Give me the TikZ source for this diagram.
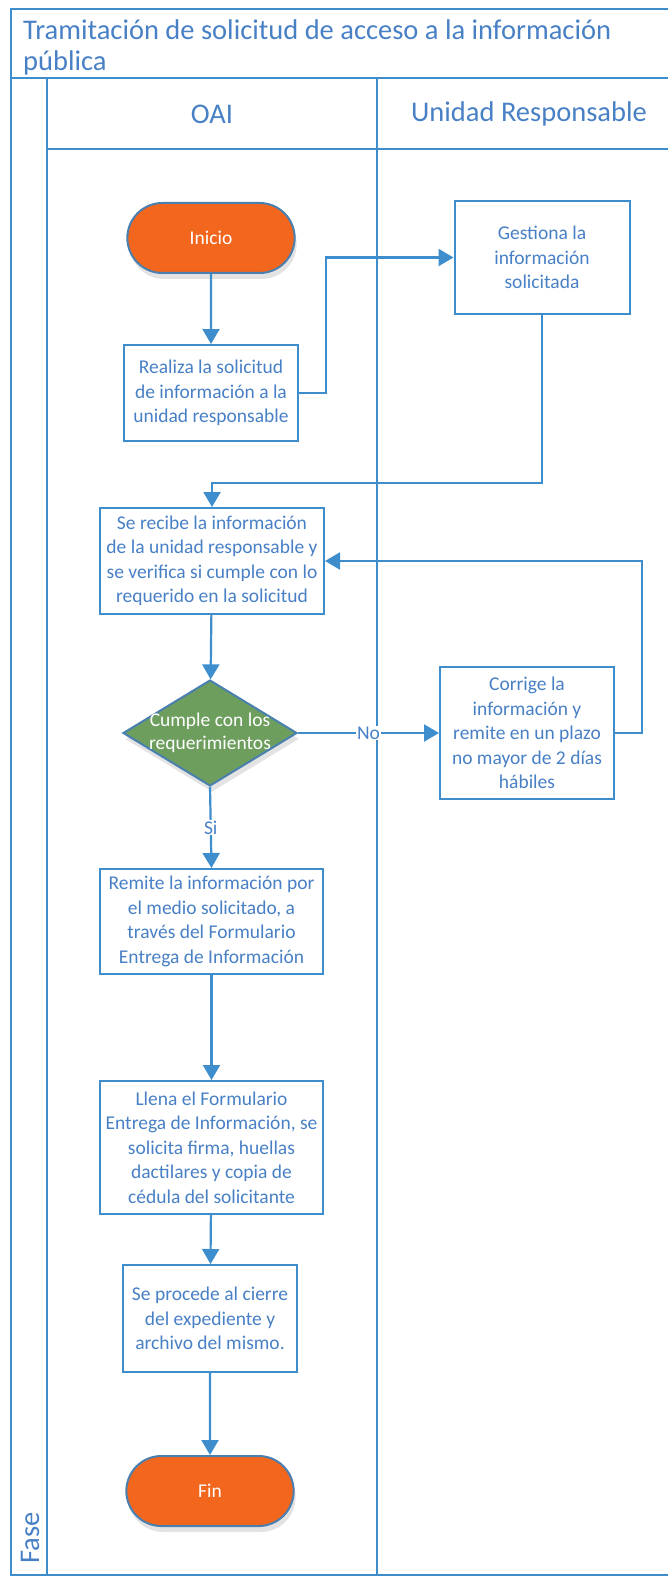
\documentclass[tikz,border=0pt]{standalone}
\usepackage{fontspec}
\setmainfont{Carlito}
\usetikzlibrary{shapes.geometric,shapes.misc,arrows.meta,shadows,patterns}

\definecolor{laneblue}{RGB}{62,141,205}
\definecolor{txtblue}{RGB}{72,128,198}
\definecolor{termorange}{RGB}{243,102,30}
\definecolor{decgreen}{RGB}{109,158,94}
\definecolor{termedge}{RGB}{74,128,176}

\begin{document}
\begin{tikzpicture}[x=1pt,y=-1pt,
  lane/.style={draw=laneblue, line width=1.7pt},
  bigtext/.style={text=txtblue, font=\fontsize{28.5}{31}\selectfont, inner sep=0pt},
  proc/.style={draw=laneblue, line width=2pt, fill=white, text=txtblue, align=center,
    font=\fontsize{19.5}{24.5}\selectfont, inner sep=0pt},
  spotshadow/.style={drop shadow={shadow xshift=2pt, shadow yshift=-6pt, fill=black!18, opacity=.6}},
  term/.style={rounded rectangle, draw=termedge, line width=2pt, fill=termorange, text=white,
    minimum width=174pt, minimum height=70pt, font=\fontsize{19.5}{22}\selectfont, spotshadow},
  decision/.style={diamond, draw=termedge, line width=2pt, fill=decgreen,
    minimum width=174pt, minimum height=106pt, inner sep=0pt, spotshadow},
  dlabel/.style={align=center, text=white, font=\fontsize{19.5}{23}\selectfont},
  flow/.style={draw=laneblue, line width=2.2pt, -{Triangle[length=15pt,width=17pt]}},
  tag/.style={fill=white, text=txtblue, font=\fontsize{19.5}{22}\selectfont, inner sep=1pt},
]
\useasboundingbox (0,0) rectangle (668,1578);

% pool and lanes
\draw[lane] (668,9) -- (11,9) -- (11,1575) -- (668,1575);
\draw[lane] (11,78) -- (668,78);
\draw[lane] (47,78) -- (47,1575);
\draw[lane] (47,149) -- (668,149);
\draw[lane] (377,78) -- (377,1575);

\node[bigtext, anchor=north west, align=left] (titulo) at (23,20)
  {Tramitación de solicitud de acceso a la información\\pública};
\node[bigtext] (oai) at (212,114) {OAI};
\node[bigtext] (unidad) at (529,114) {Unidad Responsable};
\node[bigtext, rotate=90, anchor=west] (fase) at (30,1564) {Fase};

% steps
\node[term] (inicio) at (211,238) {Inicio};
\node[proc, minimum width=174pt, minimum height=96pt] (realiza) at (211,393)
  {Realiza la solicitud\\de información a la\\unidad responsable};
\node[proc, minimum width=175pt, minimum height=113pt] (gestiona) at (542,257.5)
  {Gestiona la\\información\\solicitada};
\node[proc, minimum width=224pt, minimum height=106pt] (recibe) at (212,561)
  {Se recibe la información\\de la unidad responsable y\\se verifica si cumple con lo\\requerido en la solicitud};
\node[decision, label={[dlabel]center:Cumple con los\\requerimientos}] (cumple) at (210,733) {};
\node[proc, minimum width=174pt, minimum height=132pt] (corrige) at (527,733)
  {Corrige la\\información y\\remite en un plazo\\no mayor de 2 días\\hábiles};
\node[proc, minimum width=223pt, minimum height=105pt] (remite) at (211.5,921.5)
  {Remite la información por\\el medio solicitado, a\\través del Formulario\\Entrega de Información};
\node[proc, minimum width=223pt, minimum height=133pt] (llena) at (211.5,1147.5)
  {Llena el Formulario\\Entrega de Información, se\\solicita firma, huellas\\dactilares y copia de\\cédula del solicitante};
\node[proc, minimum width=174pt, minimum height=107pt] (cierre) at (210,1318.5)
  {Se procede al cierre\\del expediente y\\archivo del mismo.};
\node[term] (fin) at (210,1491) {Fin};

% connectors
\draw[flow] (inicio) -- (realiza);
\draw[flow] (realiza.east) -- ++(27,0) |- (gestiona.west);
\draw[flow] (gestiona.south) -- ++(0,168) -| (recibe.north);
\draw[flow] (recibe) -- (cumple);
\draw[flow] (cumple.east) -- node[tag] {No} (corrige.west);
\draw[flow] (corrige.east) -- ++(27,0) |- (recibe.east);
\draw[flow] (cumple.south) -- node[tag] {Si} (remite.north);
\draw[flow] (remite) -- (llena);
\draw[flow] (llena) -- (cierre);
\draw[flow] (cierre) -- (fin);

\end{tikzpicture}
\end{document}
